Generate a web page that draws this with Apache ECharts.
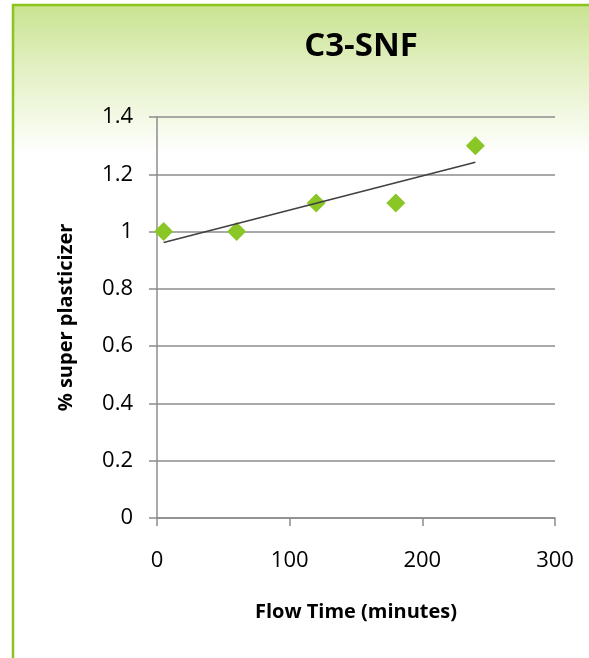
<!DOCTYPE html>
<html>
<head>
<meta charset="utf-8">
<title>C3-SNF</title>
<script src="https://cdn.jsdelivr.net/npm/echarts@6/dist/echarts.min.js"></script>
<style>
  html, body { margin: 0; padding: 0; background: #ffffff; }
  #chart { width: 589px; height: 658px; }
</style>
</head>
<body>
<div id="chart"></div>
<script>
// Flow time (minutes) and superplasticizer dosage (%)
const flowTime = [5, 60, 120, 180, 240];
const dosage = [1.0, 1.0, 1.1, 1.1, 1.3];
const xTicks = [0, 100, 200, 300];
const yTicks = [0, 0.2, 0.4, 0.6, 0.8, 1.0, 1.2, 1.4];

// Least-squares linear trendline over the measured points
function linearFit(xs, ys) {
  const n = xs.length;
  const mx = xs.reduce((a, b) => a + b, 0) / n;
  const my = ys.reduce((a, b) => a + b, 0) / n;
  let sxy = 0, sxx = 0;
  for (let i = 0; i < n; i++) {
    sxy += (xs[i] - mx) * (ys[i] - my);
    sxx += (xs[i] - mx) * (xs[i] - mx);
  }
  const slope = sxy / sxx;
  return { slope, intercept: my - slope * mx };
}
const fit = linearFit(flowTime, dosage);
const xMin = Math.min(...flowTime), xMax = Math.max(...flowTime);
const trend = [
  [xMin, fit.intercept + fit.slope * xMin],
  [xMax, fit.intercept + fit.slope * xMax]
];

const FONT = '"Open Sans", "Noto Sans", sans-serif';
const chart = echarts.init(document.getElementById('chart'), null, { renderer: 'canvas' });

chart.setOption({
  backgroundColor: '#ffffff',
  animation: false,
  graphic: [
    {
      type: 'rect',
      z: -10,
      silent: true,
      shape: { x: 13, y: 5, width: 576, height: 150 },
      style: {
        fill: new echarts.graphic.LinearGradient(0, 0, 0, 1, [
          { offset: 0, color: '#c9e391' },
          { offset: 0.45, color: '#e4f1c6' },
          { offset: 1, color: '#ffffff' }
        ])
      }
    },
    {
      type: 'polyline',
      z: 10,
      silent: true,
      shape: { points: [[13, 658], [13, 5], [589, 5]] },
      style: { stroke: '#8cc41e', lineWidth: 2.5, fill: null }
    }
  ],
  title: {
    text: 'C3-SNF',
    left: 356,
    top: 25,
    textAlign: 'center',
    textStyle: { fontFamily: FONT, fontWeight: 'bold', fontSize: 33, color: '#000000' }
  },
  grid: { left: 157, right: 34, top: 117, bottom: 140, containLabel: false },
  xAxis: {
    type: 'value',
    min: xTicks[0],
    max: xTicks[xTicks.length - 1],
    interval: 100,
    name: 'Flow Time (minutes)',
    nameLocation: 'middle',
    nameGap: 84,
    nameTextStyle: { fontFamily: FONT, fontWeight: 'bold', fontSize: 20, color: '#000000' },
    axisLine: { show: true, lineStyle: { color: '#8c8c8c', width: 1.5 } },
    axisTick: { show: true, inside: false, length: 8, lineStyle: { color: '#8c8c8c', width: 1.5 } },
    axisLabel: { fontFamily: FONT, fontSize: 22, color: '#000000', margin: 32 },
    splitLine: { show: false }
  },
  yAxis: {
    type: 'value',
    min: yTicks[0],
    max: yTicks[yTicks.length - 1],
    interval: 0.2,
    name: '% super plasticizer',
    nameLocation: 'middle',
    nameGap: 81,
    nameTextStyle: { fontFamily: FONT, fontWeight: 'bold', fontSize: 20, color: '#000000' },
    axisLine: { show: true, lineStyle: { color: '#8c8c8c', width: 1.5 } },
    axisTick: { show: true, inside: false, length: 8, lineStyle: { color: '#8c8c8c', width: 1.5 } },
    axisLabel: {
      fontFamily: FONT, fontSize: 22, color: '#000000', margin: 24,
      formatter: v => String(Math.round(v * 10) / 10)
    },
    splitLine: { show: true, lineStyle: { color: '#8c8c8c', width: 1.5 } }
  },
  series: [
    {
      type: 'scatter',
      symbol: 'diamond',
      symbolSize: 19,
      itemStyle: { color: '#8ac626', opacity: 1 },
      data: flowTime.map((x, i) => [x, dosage[i]])
    },
    {
      type: 'line',
      data: trend,
      symbol: 'none',
      lineStyle: { color: '#404040', width: 1.6 },
      z: 3
    }
  ]
});
</script>
</body>
</html>
